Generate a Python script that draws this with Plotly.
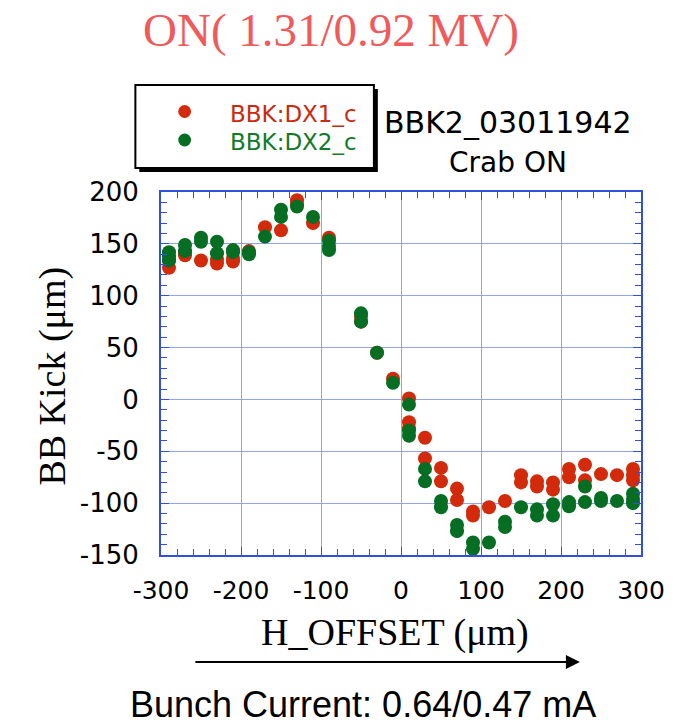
import plotly.graph_objects as go

# ---- data ----
x_dx1 = [-290, -290, -270, -270, -250, -230, -230, -210, -210, -190, -170, -150,
         -130, -130, -110, -90, -50, -50, -30, -10, 10, 10, 10, 30, 30, 50, 50,
         70, 70, 90, 90, 110, 130, 150, 150, 170, 170, 190, 190, 210, 210,
         230, 230, 250, 270, 290, 290, 290]
y_dx1 = [127, 134, 139, 142, 134, 131, 135, 133, 136, 143, 166, 163,
         192, 188, 170, 156, 80, 75, 45, 20, 1, -22, -28, -37, -57, -66, -79,
         -86, -97, -108, -112, -104, -98, -73, -80, -79, -84, -80, -87, -67, -75,
         -63, -78, -72, -73, -67, -73, -78]

x_dx2 = [-290, -290, -290, -270, -270, -250, -250, -230, -230, -210, -210, -190, -190,
         -170, -150, -150, -130, -110, -90, -90, -90, -50, -50, -30, -10,
         10, 10, 10, 30, 30, 50, 50, 70, 70, 90, 90, 110, 130, 130, 150,
         170, 170, 190, 190, 210, 210, 230, 230, 250, 250, 270, 290, 290, 290]
y_dx2 = [142, 138, 134, 149, 143, 156, 152, 152, 141, 142, 144, 140, 142,
         157, 183, 176, 186, 176, 153, 148, 144, 83, 75, 45, 16,
         -5, -30, -35, -67, -79, -98, -104, -121, -127, -138, -144, -138, -118, -123, -104,
         -106, -112, -101, -112, -99, -103, -84, -99, -95, -98, -98, -91, -96, -100]

series_names = ["BBK:DX1_c", "BBK:DX2_c"]
x_ticks = [-300, -200, -100, 0, 100, 200, 300]
y_ticks = [200, 150, 100, 50, 0, -50, -100, -150]

RED = "#d22a0a"
GREEN = "#056e22"
AXIS_BLUE = "#3050dd"
GRID_BLUE = "#93a2ec"

W, H = 677, 728
L, R, T, B = 161, 648, 192, 555


def px(xp):
    return (xp - L) / (R - L)


def py(yp):
    return (B - yp) / (B - T)


fig = go.Figure()
fig.add_trace(go.Scatter(x=x_dx1, y=y_dx1, mode="markers", name=series_names[0],
                         marker=dict(color=RED, size=14, line=dict(width=0))))
fig.add_trace(go.Scatter(x=x_dx2, y=y_dx2, mode="markers", name=series_names[1],
                         marker=dict(color=GREEN, size=14, line=dict(width=0))))

fig.update_xaxes(range=[-300, 300], tickvals=x_ticks, ticktext=[str(v) for v in x_ticks],
                 showgrid=True, gridcolor=GRID_BLUE, gridwidth=1,
                 showline=True, linecolor=AXIS_BLUE, linewidth=2, mirror="allticks",
                 ticks="inside", ticklen=8, tickcolor=AXIS_BLUE, tickwidth=1,
                 minor=dict(dtick=20, ticks="inside", ticklen=6, tickcolor=AXIS_BLUE, showgrid=False),
                 zeroline=False, tickfont=dict(family="DejaVu Sans", size=25, color="black"),
                 ticklabelstandoff=12)
fig.update_yaxes(range=[-150, 200], tickvals=y_ticks, ticktext=[str(v) for v in y_ticks],
                 showgrid=True, gridcolor=GRID_BLUE, gridwidth=1,
                 showline=True, linecolor=AXIS_BLUE, linewidth=2, mirror="allticks",
                 ticks="inside", ticklen=8, tickcolor=AXIS_BLUE, tickwidth=1,
                 minor=dict(dtick=10, ticks="inside", ticklen=6, tickcolor=AXIS_BLUE, showgrid=False),
                 zeroline=False, tickfont=dict(family="DejaVu Sans", size=26, color="black"),
                 ticklabelstandoff=15)

shapes = [
    # legend shadow
    dict(type="rect", xref="paper", yref="paper", x0=px(139), x1=px(381), y0=py(172), y1=py(89),
         fillcolor="black", line=dict(width=0), layer="above"),
    # legend box
    dict(type="rect", xref="paper", yref="paper", x0=px(135), x1=px(377), y0=py(168), y1=py(85),
         fillcolor="white", line=dict(color="black", width=2), layer="above"),
    # legend dots
    dict(type="circle", xref="paper", yref="paper", x0=px(178.5), x1=px(191.5), y0=py(118), y1=py(105),
         fillcolor=RED, line=dict(width=0), layer="above"),
    dict(type="circle", xref="paper", yref="paper", x0=px(178.5), x1=px(191.5), y0=py(146.5), y1=py(133.5),
         fillcolor=GREEN, line=dict(width=0), layer="above"),
]

annotations = [
    dict(text="ON( 1.31/0.92 MV)", x=px(333), y=py(30), xref="paper", yref="paper",
         showarrow=False, xanchor="center", yanchor="middle",
         font=dict(family="Liberation Serif", size=47, color="#f05a5a")),
    dict(text=series_names[0], x=px(229), y=py(114), xref="paper", yref="paper",
         showarrow=False, xanchor="left", yanchor="middle",
         font=dict(family="DejaVu Sans", size=23, color="#cc2a10")),
    dict(text=series_names[1], x=px(229), y=py(142), xref="paper", yref="paper",
         showarrow=False, xanchor="left", yanchor="middle",
         font=dict(family="DejaVu Sans", size=23, color="#137a2a")),
    dict(text="BBK2_03011942", x=px(513), y=py(122), xref="paper", yref="paper",
         showarrow=False, xanchor="center", yanchor="middle",
         font=dict(family="DejaVu Sans", size=30, color="black")),
    dict(text="Crab ON", x=px(513), y=py(162), xref="paper", yref="paper",
         showarrow=False, xanchor="center", yanchor="middle",
         font=dict(family="DejaVu Sans", size=28, color="black")),
    dict(text="BB Kick (\u03bcm)", x=px(50), y=py(376), xref="paper", yref="paper",
         showarrow=False, xanchor="center", yanchor="middle", textangle=-90,
         font=dict(family="Liberation Serif", size=38, color="black")),
    dict(text="H_OFFSET (\u03bcm)", x=px(398), y=py(632), xref="paper", yref="paper",
         showarrow=False, xanchor="center", yanchor="middle",
         font=dict(family="Liberation Serif", size=38, color="black")),
    dict(text="Bunch Current: 0.64/0.47 mA", x=px(366), y=py(704), xref="paper", yref="paper",
         showarrow=False, xanchor="center", yanchor="middle", borderpad=0,
         font=dict(family="Liberation Sans", size=36, color="black")),
    # arrow
    dict(text="", x=px(586), y=py(662), xref="paper", yref="paper",
         ax=-386, ay=0, axref="pixel", ayref="pixel",
         showarrow=True, arrowhead=2, arrowsize=1.4, arrowwidth=2, arrowcolor="black"),
]

fig.update_layout(width=W, height=H, margin=dict(l=L, r=W - R, t=T, b=H - B),
                  paper_bgcolor="white", plot_bgcolor="white", showlegend=False,
                  shapes=shapes, annotations=annotations)

fig.write_html("out.html")
